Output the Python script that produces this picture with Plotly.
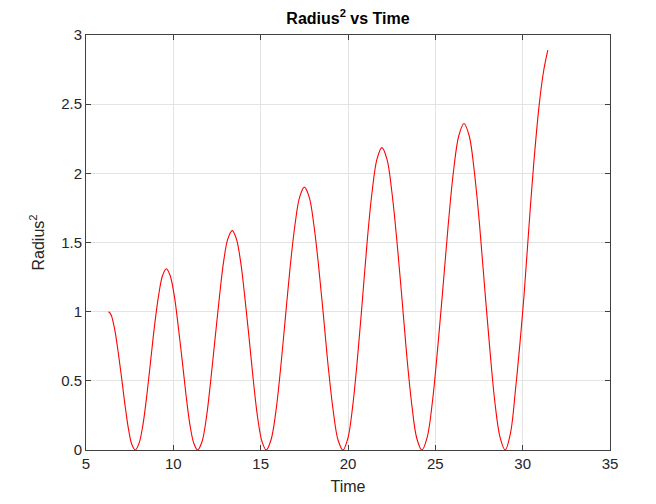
import plotly.graph_objects as go

# Time values
time = [
    6.29, 6.38, 6.48, 6.57, 6.67, 6.86, 7.06, 7.25, 7.44, 7.63, 7.82,
    8.04, 8.27, 8.49, 8.71, 8.93, 9.16, 9.38, 9.60,
    9.82, 10.05, 10.27, 10.50, 10.72, 10.94, 11.17, 11.39,
    11.64, 11.89, 12.13, 12.38, 12.63, 12.87, 13.12, 13.37,
    13.61, 13.86, 14.10, 14.35, 14.59, 14.83, 15.08, 15.32,
    15.59, 15.87, 16.14, 16.41, 16.68, 16.96, 17.23, 17.50,
    17.78, 18.05, 18.33, 18.61, 18.88, 19.16, 19.43, 19.71,
    19.99, 20.27, 20.55, 20.83, 21.10, 21.38, 21.66, 21.94,
    22.23, 22.51, 22.80, 23.09, 23.37, 23.66, 23.94, 24.23,
    24.53, 24.83, 25.13, 25.44, 25.74, 26.04, 26.34, 26.64,
    26.94, 27.23, 27.53, 27.82, 28.12, 28.41, 28.71, 29.00,
    29.30, 29.60, 29.85, 30.08, 30.34, 30.62, 30.95, 31.20, 31.44,
]

# Radius^2 values
radius_sq = [
    1.000, 0.990, 0.962, 0.915, 0.854, 0.691, 0.500, 0.309, 0.146, 0.038, 0.000,
    0.050, 0.191, 0.405, 0.655, 0.905, 1.119, 1.260, 1.310,
    1.260, 1.119, 0.905, 0.655, 0.405, 0.191, 0.050, 0.000,
    0.060, 0.232, 0.490, 0.793, 1.096, 1.354, 1.526, 1.586,
    1.526, 1.354, 1.096, 0.793, 0.490, 0.232, 0.060, 0.000,
    0.072, 0.277, 0.587, 0.950, 1.313, 1.623, 1.828, 1.900,
    1.828, 1.623, 1.313, 0.950, 0.587, 0.277, 0.072, 0.000,
    0.083, 0.319, 0.675, 1.093, 1.511, 1.867, 2.103, 2.186,
    2.103, 1.867, 1.511, 1.093, 0.675, 0.319, 0.083, 0.000,
    0.090, 0.345, 0.729, 1.180, 1.631, 2.015, 2.270, 2.360,
    2.270, 2.015, 1.631, 1.180, 0.729, 0.345, 0.090, 0.000,
    0.120, 0.450, 0.780, 1.120, 1.580, 2.050, 2.500, 2.740, 2.890,
]

x_ticks = [5, 10, 15, 20, 25, 30, 35]
y_ticks = [0, 0.5, 1, 1.5, 2, 2.5, 3]

FONT = "Liberation Sans, Arial, Helvetica, sans-serif"
DARK = "#262626"
GRID = "#e3e3e3"

fig = go.Figure()
fig.add_trace(go.Scatter(
    x=time, y=radius_sq, mode="lines",
    line=dict(color="#ff0000", width=1.1, shape="spline", smoothing=1.0),
    showlegend=False, hoverinfo="skip",
))

axis_common = dict(
    showline=True, linecolor="#404040", linewidth=1, mirror="ticks",
    ticks="inside", ticklen=5, tickcolor="#404040", tickwidth=1,
    showgrid=True, gridcolor=GRID, gridwidth=1, zeroline=False,
    tickfont=dict(family=FONT, size=15, color=DARK),
)

fig.update_layout(
    width=656, height=504,
    paper_bgcolor="white", plot_bgcolor="white",
    margin=dict(l=86, r=46, t=35, b=54),
    title=dict(
        text="<b>Radius<sup>2</sup> vs Time</b>",
        font=dict(family=FONT, size=16, color="#000000"),
        x=0.5, xref="paper", xanchor="center",
        y=1 - 18 / 504, yref="container", yanchor="middle",
    ),
    xaxis=dict(
        range=[5, 35], tickvals=x_ticks,
        title=dict(text="Time", font=dict(family=FONT, size=16, color=DARK), standoff=9),
        **axis_common,
    ),
    yaxis=dict(
        range=[0, 3], tickvals=y_ticks,
        title=dict(text="Radius<sup>2</sup>", font=dict(family=FONT, size=16, color=DARK), standoff=12),
        **axis_common,
    ),
)

fig.write_html("out.html")
